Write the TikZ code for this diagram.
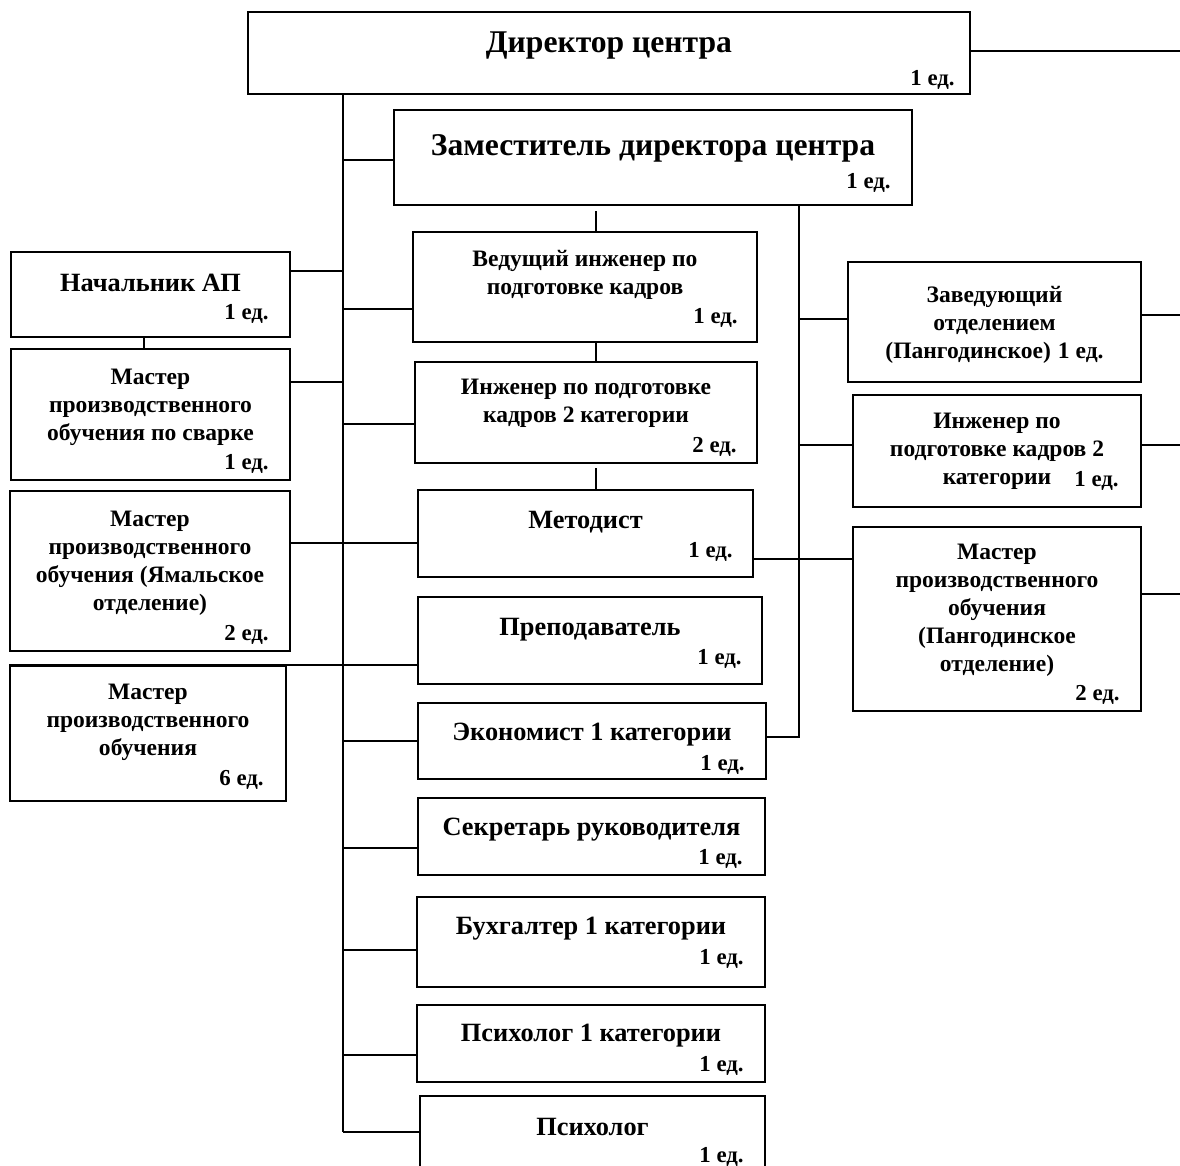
\documentclass[tikz,border=0pt]{standalone}
\usepackage{fontspec}
\setmainfont{Liberation Serif}
\usepackage{tikz}
\usetikzlibrary{positioning, fit, calc}
\tikzstyle{link}=[line width=0.9pt, color=black]

\begin{document}
\begin{tikzpicture}[x=0.02cm, y=-0.02cm,
  box/.style={rectangle, draw=black, line width=1.1pt, inner sep=0pt},
  head/.style={inner sep=0pt, yshift=-2pt, font=\bfseries\fontsize{18}{21}\selectfont},
  lbl/.style={align=center, inner sep=0pt, yshift=-2.2pt, font=\bfseries\fontsize{15}{17}\selectfont},
  sml/.style={align=center, inner sep=0pt, yshift=-2pt, font=\bfseries\fontsize{13.4}{16}\selectfont},
  unit/.style={anchor=east, inner sep=0pt, yshift=-2.2pt, font=\bfseries\fontsize{13}{15}\selectfont}
]
\useasboundingbox (0,0) rectangle (1180,1166);

% Top: director and deputy
\node[box, fit={(248,12) (970,94)}] (dir) {};
\node[head] (dirT) at ($(dir.north)+(0,31)$) {Директор центра};
\node[unit] (dirU) at ($(dir.north east)+(-16,65)$) {1 ед.};
\node[box, fit={(394,110) (912,205)}] (dep) {};
\node[head] (depT) at ($(dep.north)+(0,36)$) {Заместитель директора центра};
\node[unit] (depU) at ($(dep.north east)+(-22,70)$) {1 ед.};

% Column 1: left boxes
\node[box, fit={(11,252) (290,337)}] (nach) {};
\node[lbl] (nachT) at ($(nach.north)+(0,28)$) {Начальник АП};
\node[unit] (nachU) at ($(nach.north east)+(-22,59)$) {1 ед.};
\node[box, fit={(11,349) (290,480)}] (svar) {};
\node[sml] (svarT) at ($(svar.north)+(0,56)$) {Мастер\\производственного\\обучения по сварке};
\node[unit] (svarU) at ($(svar.north east)+(-22,112)$) {1 ед.};
\node[box, fit={(10,491) (290,651)}] (yam) {};
\node[sml] (yamT) at ($(yam.north)+(0,70)$) {Мастер\\производственного\\обучения (Ямальское\\отделение)};
\node[unit] (yamU) at ($(yam.north east)+(-22,141)$) {2 ед.};
\node[box, fit={(10,666) (286,801)}] (master6) {};
\node[sml] (master6T) at ($(master6.north)+(0,54)$) {Мастер\\производственного\\обучения};
\node[unit] (master6U) at ($(master6.north east)+(-23,111)$) {6 ед.};

% Column 2: middle boxes
\node[box, fit={(413,232) (757,342)}] (ved) {};
\node[sml] (vedT) at ($(ved.north)+(0,40)$) {Ведущий инженер по\\подготовке кадров};
\node[unit] (vedU) at ($(ved.north east)+(-20,83)$) {1 ед.};
\node[box, fit={(415,362) (757,463)}] (ing2) {};
\node[sml] (ing2T) at ($(ing2.north)+(0,39)$) {Инженер по подготовке\\кадров 2 категории};
\node[unit] (ing2U) at ($(ing2.north east)+(-21,82)$) {2 ед.};
\node[box, fit={(418,490) (753,577)}] (metod) {};
\node[lbl] (metodT) at ($(metod.north)+(0,29)$) {Методист};
\node[unit] (metodU) at ($(metod.north east)+(-21,59)$) {1 ед.};
\node[box, fit={(418,597) (762,684)}] (prep) {};
\node[lbl] (prepT) at ($(prep.north)+(0,30)$) {Преподаватель};
\node[unit] (prepU) at ($(prep.north east)+(-21,59)$) {1 ед.};
\node[box, fit={(418,703) (766,779)}] (econ) {};
\node[lbl] (econT) at ($(econ.north)+(0,29)$) {Экономист 1 категории};
\node[unit] (econU) at ($(econ.north east)+(-22,59)$) {1 ед.};
\node[box, fit={(418,798) (765,875)}] (sekr) {};
\node[lbl] (sekrT) at ($(sekr.north)+(0,29)$) {Секретарь руководителя};
\node[unit] (sekrU) at ($(sekr.north east)+(-23,58)$) {1 ед.};
\node[box, fit={(417,897) (765,987)}] (buh) {};
\node[lbl] (buhT) at ($(buh.north)+(0,29)$) {Бухгалтер 1 категории};
\node[unit] (buhU) at ($(buh.north east)+(-22,59)$) {1 ед.};
\node[box, fit={(417,1005) (765,1082)}] (psy1) {};
\node[lbl] (psy1T) at ($(psy1.north)+(0,28)$) {Психолог 1 категории};
\node[unit] (psy1U) at ($(psy1.north east)+(-22,58)$) {1 ед.};
\node[box, fit={(420,1096) (765,1180)}] (psy) {};
\node[lbl] (psyT) at ($(psy.north)+(0,28)$) {Психолог};
\node[unit] (psyU) at ($(psy.north east)+(-22,58)$) {1 ед.};

% Column 3: right boxes
\node[box, fit={(848,262) (1141,382)}] (zav) {};
\node[sml] (zavT) at ($(zav.north)+(0,60)$) {Заведующий\\отделением\\(Пангодинское)\hspace{0.3em}1 ед.};
\node[box, fit={(853,395) (1141,507)}] (ing2r) {};
\node[sml] (ing2rT) at ($(ing2r.north)+(0,54)$) {Инженер по\\подготовке кадров 2\\категории};
\node[unit] (ing2rU) at ($(ing2r.north east)+(-23,83)$) {1 ед.};
\node[box, fit={(853,527) (1141,711)}] (mpan) {};
\node[sml] (mpanT) at ($(mpan.north)+(0,81)$) {Мастер\\производственного\\обучения\\(Пангодинское\\отделение)};
\node[unit] (mpanU) at ($(mpan.north east)+(-22,165)$) {2 ед.};

% Spines
\coordinate (spine) at ($(dir.south west)+(96,0)$);
\coordinate (rspine) at ($(dep.south west)+(406,0)$);
\coordinate (rim) at (1180,0);

% Left spine links
\draw[link] ($(dep.north west)+(0,51)$) coordinate (c1) -- (c1 -| spine);
\draw[link] ($(nach.north east)+(0,20)$) coordinate (c2) -- (c2 -| spine);
\draw[link] ($(svar.north east)+(0,34)$) coordinate (c3) -- (c3 -| spine);
\draw[link] ($(yam.north east)+(0,53)$) coordinate (c4) -- (c4 -| metod.west);
\draw[link] (master6.north west) -- (master6.north west -| prep.west);
\draw[link] ($(ved.north west)+(0,78)$) coordinate (c5) -- (c5 -| spine);
\draw[link] ($(ing2.north west)+(0,63)$) coordinate (c6) -- (c6 -| spine);
\draw[link] ($(econ.north west)+(0,39)$) coordinate (c7) -- (c7 -| spine);
\draw[link] ($(sekr.north west)+(0,51)$) coordinate (c8) -- (c8 -| spine);
\draw[link] ($(buh.north west)+(0,54)$) coordinate (c9) -- (c9 -| spine);
\draw[link] ($(psy1.north west)+(0,51)$) coordinate (c10) -- (c10 -| spine);
\draw[link] ($(psy.north west)+(0,37)$) coordinate (c11) -- (c11 -| spine);
\draw[link] (spine) -- (c11 -| spine);

% Right spine links
\draw[link] ($(econ.north east)+(0,35)$) -| (rspine);
\draw[link] ($(zav.north west)+(0,58)$) coordinate (c12) -- (c12 -| rspine);
\draw[link] ($(ing2r.north west)+(0,51)$) coordinate (c13) -- (c13 -| rspine);
\draw[link] ($(metod.north east)+(0,70)$) coordinate (c14) -- (c14 -| mpan.west);

% Lines to the right edge
\draw[link] ($(dir.north east)+(0,40)$) coordinate (e1) -- (e1 -| rim);
\draw[link] ($(zav.north east)+(0,54)$) coordinate (e2) -- (e2 -| rim);
\draw[link] ($(ing2r.north east)+(0,51)$) coordinate (e3) -- (e3 -| rim);
\draw[link] ($(mpan.north east)+(0,68)$) coordinate (e4) -- (e4 -| rim);

% Short vertical links
\draw[link, shorten >=0.1cm] ($(ved.north west)+(184,0)$) coordinate (v1) -- (v1 |- dep.south);
\draw[link] ($(ing2.north west)+(182,0)$) coordinate (v2) -- (v2 |- ved.south);
\draw[link, shorten >=0.08cm] ($(metod.north west)+(179,0)$) coordinate (v3) -- (v3 |- ing2.south);
\draw[link] ($(svar.north west)+(134,0)$) coordinate (v4) -- (v4 |- nach.south);
\end{tikzpicture}
\end{document}
